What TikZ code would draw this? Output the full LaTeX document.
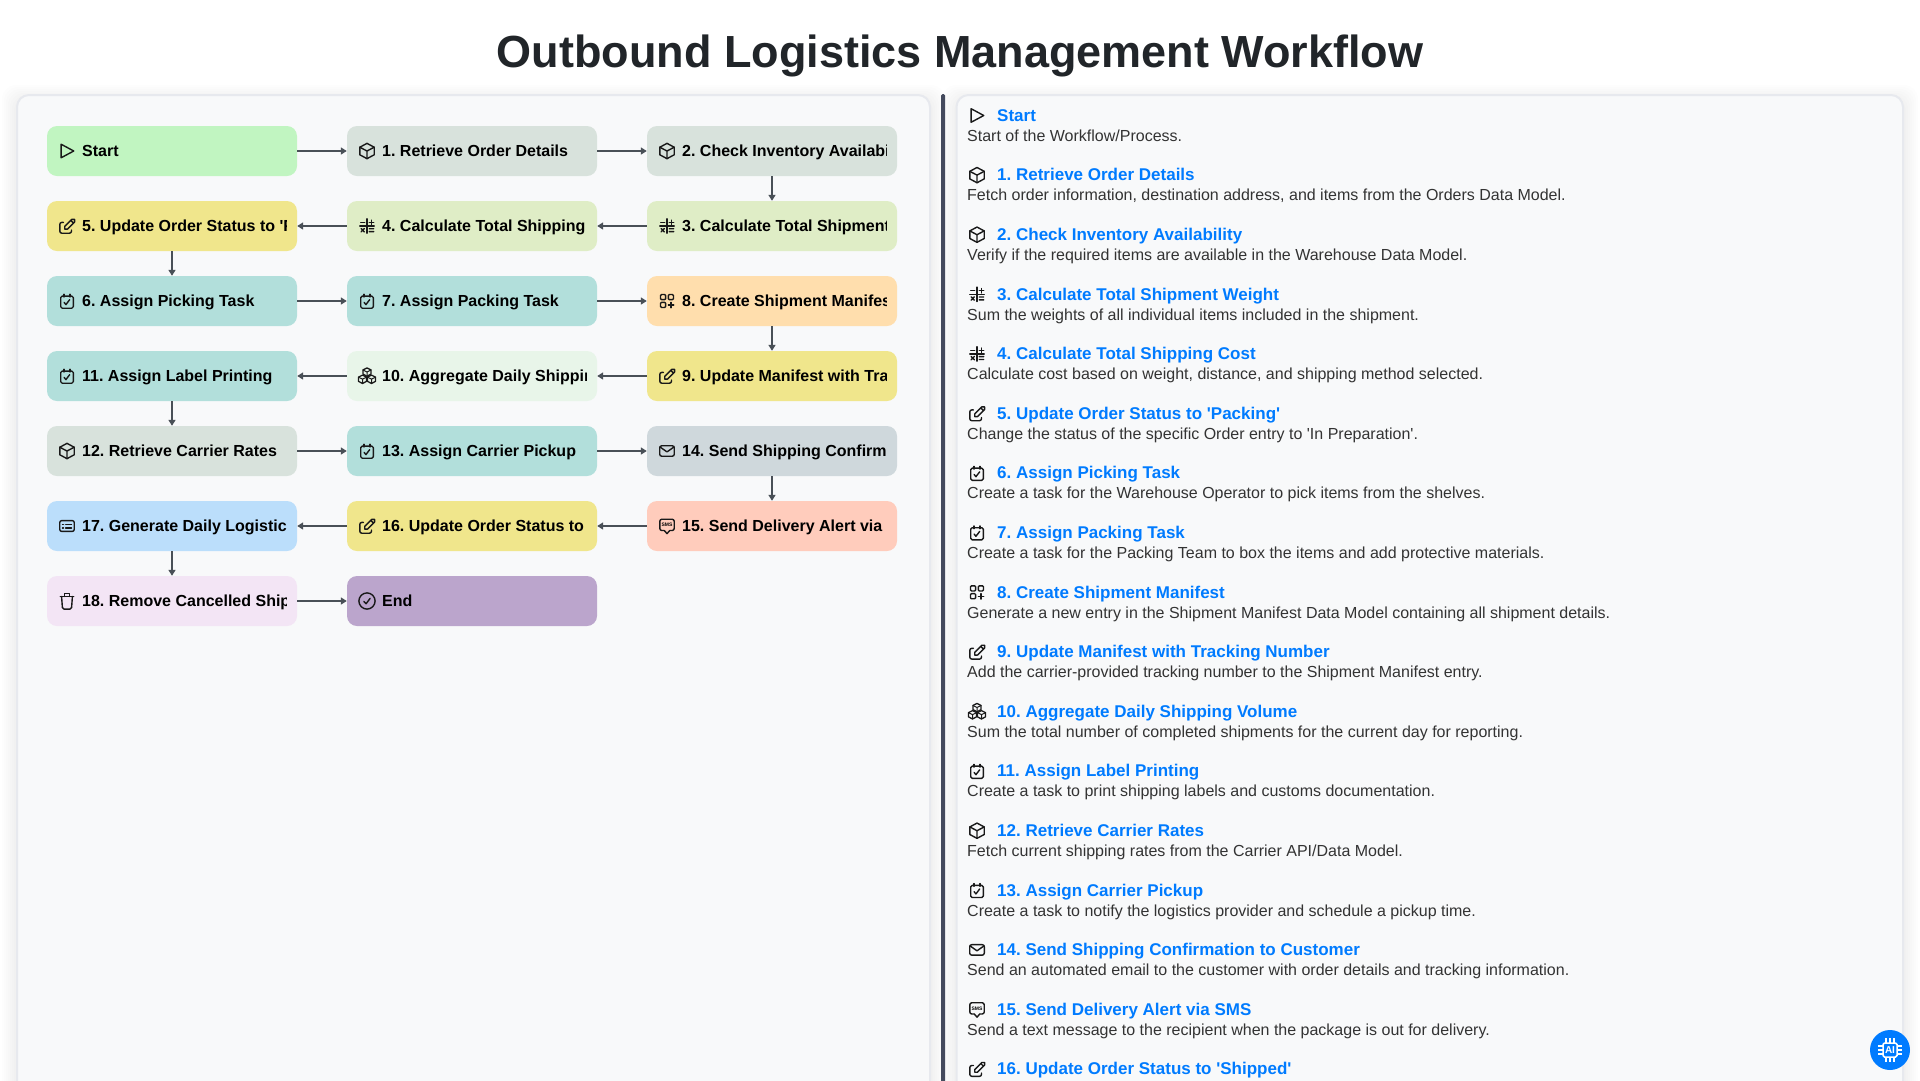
\documentclass[tikz,border=0pt]{standalone}
\usepackage{fontspec}
\setmainfont{Liberation Sans}
\usetikzlibrary{arrows.meta}
\definecolor{panelfill}{HTML}{F8F9FA}
\definecolor{panelline}{HTML}{E7E9EE}
\definecolor{flowgray}{HTML}{495057}
\definecolor{barcolor}{HTML}{454B5E}
\definecolor{inktitle}{HTML}{212529}
\definecolor{inkdesc}{HTML}{333333}
\definecolor{linkblue}{HTML}{007BFF}
\definecolor{cstart}{HTML}{C1F5C1}
\definecolor{cdata}{HTML}{D8E2DC}
\definecolor{ccalc}{HTML}{DFEDC6}
\definecolor{cupdate}{HTML}{F0E68C}
\definecolor{ctask}{HTML}{B2DFDB}
\definecolor{ccreate}{HTML}{FFDEAD}
\definecolor{caggr}{HTML}{E8F5E9}
\definecolor{cmail}{HTML}{CFD8DC}
\definecolor{csms}{HTML}{FFCCBC}
\definecolor{creport}{HTML}{BBDEFB}
\definecolor{cremove}{HTML}{F3E5F5}
\definecolor{cend}{HTML}{BBA5CC}
\tikzset{
  stepshape/.style={rectangle, rounded corners=10pt, minimum width=250pt, minimum height=50pt, inner sep=0pt},
  steplabel/.style={anchor=base west, inner sep=0pt, font=\fontsize{16}{19}\selectfont\bfseries\frenchspacing, text=black},
  headlabel/.style={anchor=base west, inner sep=0pt, font=\fontsize{17}{20}\selectfont\bfseries\frenchspacing, text=linkblue},
  desclabel/.style={anchor=base west, inner sep=0pt, font=\fontsize{16}{19}\selectfont\frenchspacing, text=inkdesc},
  flow/.style={draw=flowgray, line width=2pt, -{Triangle[length=6pt,width=7pt]}},
  iconline/.style={draw=black!90, line width=1.4pt, line join=round, line cap=round},
  pics/playicon/.style={code={\begin{scope}[shift={(-12,-12)}]
    \draw[iconline] (5.5,4.5) -- (19.5,12) -- (5.5,19.5) -- cycle;
  \end{scope}}},
  pics/boxicon/.style={code={\begin{scope}[shift={(-12,-12)}]
    \draw[iconline] (12,3.5) -- (20,7.8) -- (20,16.2) -- (12,20.5) -- (4,16.2) -- (4,7.8) -- cycle;
    \draw[iconline] (4,7.8) -- (12,12) -- (20,7.8) (12,12) -- (12,20.5);
  \end{scope}}},
  pics/calcicon/.style={code={\begin{scope}[shift={(-12,-12)}]
    \draw[iconline] (4,12) -- (20,12) (12,4) -- (12,20);
    \draw[iconline] (5,8) -- (9.5,8) (14.5,8) -- (19.5,8) (17,5.5) -- (17,10.5);
    \draw[iconline] (5.5,14.8) -- (9,18.5) (9,14.8) -- (5.5,18.5) (14.5,15) -- (19.5,15) (14.5,18.2) -- (19.5,18.2);
  \end{scope}}},
  pics/editicon/.style={code={\begin{scope}[shift={(-12,-12)}]
    \draw[iconline, rounded corners=2pt] (8,8) -- (4,8) -- (4,20) -- (17,20) -- (17,16.5);
    \draw[iconline] (9.5,12.5) -- (17.4,4.6) .. controls (18.2,3.8) and (19.6,3.8) .. (20.4,4.6) .. controls (21.2,5.4) and (21.2,6.8) .. (20.4,7.6) -- (12.5,15.5) -- (9.5,15.5) -- cycle (16.2,5.8) -- (19.2,8.8);
  \end{scope}}},
  pics/taskicon/.style={code={\begin{scope}[shift={(-12,-12)}]
    \draw[iconline, rounded corners=1.5pt] (5,6.5) rectangle (19,20);
    \draw[iconline] (8.5,4.5) -- (8.5,7.5) (15.5,4.5) -- (15.5,7.5);
    \draw[iconline] (8.8,13.5) -- (10.8,16) -- (15,10.5);
  \end{scope}}},
  pics/appsicon/.style={code={\begin{scope}[shift={(-12,-12)}]
    \draw[iconline, rounded corners=1pt] (4.8,4.8) rectangle (10.5,10.5) (13.5,4.8) rectangle (19.2,10.5) (4.8,13.5) rectangle (10.5,19.2);
    \draw[iconline] (13.5,16.5) -- (19.5,16.5) (16.5,13.5) -- (16.5,19.5);
  \end{scope}}},
  pics/aggricon/.style={code={\begin{scope}[shift={(-12,-12)}]
    \foreach \cx/\cy in {12/7.5, 7/15.5, 17/15.5} {
      \draw[iconline, line width=1.3pt] (\cx,\cy-4.5) -- (\cx+4.5,\cy-2.2) -- (\cx+4.5,\cy+2.4) -- (\cx,\cy+4.8) -- (\cx-4.5,\cy+2.4) -- (\cx-4.5,\cy-2.2) -- cycle;
      \draw[iconline, line width=1pt] (\cx-4.5,\cy-2.2) -- (\cx,\cy) -- (\cx+4.5,\cy-2.2) (\cx,\cy) -- (\cx,\cy+4.8);
    }
  \end{scope}}},
  pics/mailicon/.style={code={\begin{scope}[shift={(-12,-12)}]
    \draw[iconline, rounded corners=2pt] (3.9,6.2) rectangle (20.1,17.8);
    \draw[iconline] (4.2,7.5) -- (12,13) -- (19.8,7.5);
  \end{scope}}},
  pics/smsicon/.style={code={\begin{scope}[shift={(-12,-12)}]
    \draw[iconline, rounded corners=2pt] (9,17) -- (4,17) -- (4,4.5) -- (20,4.5) -- (20,17) -- (15,17);
    \draw[iconline] (9,17) -- (12,20.5) -- (15,17);
    \node[inner sep=0pt, font=\fontsize{5}{5}\selectfont\bfseries, text=black] (smstag) at (12,10.8) {SMS};
  \end{scope}}},
  pics/reporticon/.style={code={\begin{scope}[shift={(-12,-12)}]
    \draw[iconline, rounded corners=2pt] (3.9,6) rectangle (20.1,18);
    \draw[iconline] (7,10) -- (8,10) (7,14) -- (8,14) (10.5,10) -- (17,10) (10.5,14) -- (17,14);
  \end{scope}}},
  pics/trashicon/.style={code={\begin{scope}[shift={(-12,-12)}]
    \draw[iconline] (4.5,7) -- (19.5,7) (9,7) -- (9,3.5) -- (15,3.5) -- (15,7);
    \draw[iconline, rounded corners=1.5pt] (6,7) -- (7,21) -- (17,21) -- (18,7);
  \end{scope}}},
  pics/doneicon/.style={code={\begin{scope}[shift={(-12,-12)}]
    \draw[iconline] (12,12) circle (9);
    \draw[iconline] (8.5,12.5) -- (11,15) -- (15.5,9);
  \end{scope}}}
}
\newcommand{\stepnode}[6]{
  \node[stepshape, fill=#4] (#1) at (#2+125,#3) {};
  \begin{scope}
    \clip (#2+10,#3-25) rectangle (#2+239,#3+25);
    \node[steplabel] (#1text) at (#2+35,#3+5) {#6};
  \end{scope}
  \pic[scale=.9] at (#2+20,#3) {#5};
}
\newcommand{\stephead}[3]{
  \pic[scale=.9] at (977,115.5+59.6*#1) {#2};
  \node[headlabel] (head#1) at (997,121.2+59.6*#1) {#3};
}
\newcommand{\stepdesc}[2]{
  \node[desclabel] (desc#1) at (967,141.3+59.6*#1) {#2};
}
\begin{document}
\begin{tikzpicture}[x=1pt,y=-1pt]
  \useasboundingbox (0,0) rectangle (1920,1080);
  \clip (0,0) rectangle (1920,1080);
  \fill[white] (0,0) rectangle (1920,1080);
  \node[inner sep=0pt, anchor=base, font=\fontsize{45}{50}\selectfont\bfseries, text=inktitle] (title) at (960,67) {Outbound Logistics Management Workflow};

  \foreach \s in {2,4,...,14} {
    \fill[black, opacity=.006, rounded corners=14pt] (16-\s,94-\s+5) rectangle (931+\s,1120);
    \fill[black, opacity=.006, rounded corners=14pt] (956-\s,94-\s+5) rectangle (1904+\s,1120);
  }
  \draw[panelline, fill=panelfill, line width=2pt, rounded corners=12pt] (17,95) rectangle (930,1120);
  \draw[panelline, fill=panelfill, line width=2pt, rounded corners=12pt] (956.5,95) rectangle (1903,1120);
  \fill[barcolor, rounded corners=1.5pt] (941,94) rectangle (945,1120);

  \stepnode{start}{47}{151}{cstart}{playicon}{Start}
  \stepnode{order}{347}{151}{cdata}{boxicon}{1. Retrieve Order Details}
  \stepnode{stock}{647}{151}{cdata}{boxicon}{2. Check Inventory Availabil}
  \stepnode{weight}{647}{226}{ccalc}{calcicon}{3. Calculate Total Shipment}
  \stepnode{cost}{347}{226}{ccalc}{calcicon}{4. Calculate Total Shipping}
  \stepnode{packing}{47}{226}{cupdate}{editicon}{5. Update Order Status to \textquotesingle P}
  \stepnode{pick}{47}{301}{ctask}{taskicon}{6. Assign Picking Task}
  \stepnode{pack}{347}{301}{ctask}{taskicon}{7. Assign Packing Task}
  \stepnode{manifest}{647}{301}{ccreate}{appsicon}{8. Create Shipment Manifest}
  \stepnode{tracking}{647}{376}{cupdate}{editicon}{9. Update Manifest with Trac}
  \stepnode{volume}{347}{376}{caggr}{aggricon}{10. Aggregate Daily Shipping}
  \stepnode{printing}{47}{376}{ctask}{taskicon}{11. Assign Label Printing}
  \stepnode{rates}{47}{451}{cdata}{boxicon}{12. Retrieve Carrier Rates}
  \stepnode{pickup}{347}{451}{ctask}{taskicon}{13. Assign Carrier Pickup}
  \stepnode{confirm}{647}{451}{cmail}{mailicon}{14. Send Shipping Confirm}
  \stepnode{alert}{647}{526}{csms}{smsicon}{15. Send Delivery Alert via S}
  \stepnode{shipped}{347}{526}{cupdate}{editicon}{16. Update Order Status to}
  \stepnode{report}{47}{526}{creport}{reporticon}{17. Generate Daily Logistic}
  \stepnode{cancel}{47}{601}{cremove}{trashicon}{18. Remove Cancelled Ship}
  \stepnode{end}{347}{601}{cend}{doneicon}{End}

  \draw[flow] (start) -- (order);
  \draw[flow] (order) -- (stock);
  \draw[flow] (stock) -- (weight);
  \draw[flow] (weight) -- (cost);
  \draw[flow] (cost) -- (packing);
  \draw[flow] (packing) -- (pick);
  \draw[flow] (pick) -- (pack);
  \draw[flow] (pack) -- (manifest);
  \draw[flow] (manifest) -- (tracking);
  \draw[flow] (tracking) -- (volume);
  \draw[flow] (volume) -- (printing);
  \draw[flow] (printing) -- (rates);
  \draw[flow] (rates) -- (pickup);
  \draw[flow] (pickup) -- (confirm);
  \draw[flow] (confirm) -- (alert);
  \draw[flow] (alert) -- (shipped);
  \draw[flow] (shipped) -- (report);
  \draw[flow] (report) -- (cancel);
  \draw[flow] (cancel) -- (end);

  \stephead{0}{playicon}{Start}
  \stepdesc{0}{Start of the Workflow/Process.}
  \stephead{1}{boxicon}{1. Retrieve Order Details}
  \stepdesc{1}{Fetch order information, destination address, and items from the Orders Data Model.}
  \stephead{2}{boxicon}{2. Check Inventory Availability}
  \stepdesc{2}{Verify if the required items are available in the Warehouse Data Model.}
  \stephead{3}{calcicon}{3. Calculate Total Shipment Weight}
  \stepdesc{3}{Sum the weights of all individual items included in the shipment.}
  \stephead{4}{calcicon}{4. Calculate Total Shipping Cost}
  \stepdesc{4}{Calculate cost based on weight, distance, and shipping method selected.}
  \stephead{5}{editicon}{5. Update Order Status to \textquotesingle Packing\textquotesingle}
  \stepdesc{5}{Change the status of the specific Order entry to \textquotesingle In Preparation\textquotesingle.}
  \stephead{6}{taskicon}{6. Assign Picking Task}
  \stepdesc{6}{Create a task for the Warehouse Operator to pick items from the shelves.}
  \stephead{7}{taskicon}{7. Assign Packing Task}
  \stepdesc{7}{Create a task for the Packing Team to box the items and add protective materials.}
  \stephead{8}{appsicon}{8. Create Shipment Manifest}
  \stepdesc{8}{Generate a new entry in the Shipment Manifest Data Model containing all shipment details.}
  \stephead{9}{editicon}{9. Update Manifest with Tracking Number}
  \stepdesc{9}{Add the carrier-provided tracking number to the Shipment Manifest entry.}
  \stephead{10}{aggricon}{10. Aggregate Daily Shipping Volume}
  \stepdesc{10}{Sum the total number of completed shipments for the current day for reporting.}
  \stephead{11}{taskicon}{11. Assign Label Printing}
  \stepdesc{11}{Create a task to print shipping labels and customs documentation.}
  \stephead{12}{boxicon}{12. Retrieve Carrier Rates}
  \stepdesc{12}{Fetch current shipping rates from the Carrier API/Data Model.}
  \stephead{13}{taskicon}{13. Assign Carrier Pickup}
  \stepdesc{13}{Create a task to notify the logistics provider and schedule a pickup time.}
  \stephead{14}{mailicon}{14. Send Shipping Confirmation to Customer}
  \stepdesc{14}{Send an automated email to the customer with order details and tracking information.}
  \stephead{15}{smsicon}{15. Send Delivery Alert via SMS}
  \stepdesc{15}{Send a text message to the recipient when the package is out for delivery.}
  \stephead{16}{editicon}{16. Update Order Status to \textquotesingle Shipped\textquotesingle}

  \fill[linkblue] (1890,1050) circle (20);
  \draw[white, line width=1.5pt, rounded corners=1.5pt] (1883,1043) rectangle (1897,1057);
  \foreach \p in {-4,0,4} {
    \draw[white, line width=1.4pt] (1890+\p,1043) -- (1890+\p,1038);
    \draw[white, line width=1.4pt] (1890+\p,1057) -- (1890+\p,1062);
    \draw[white, line width=1.4pt] (1883,1050+\p) -- (1878,1050+\p);
    \draw[white, line width=1.4pt] (1897,1050+\p) -- (1902,1050+\p);
  }
  \node[inner sep=0pt, font=\fontsize{10}{10}\selectfont\bfseries, text=white] (chiptag) at (1890,1050) {AI};
\end{tikzpicture}
\end{document}
